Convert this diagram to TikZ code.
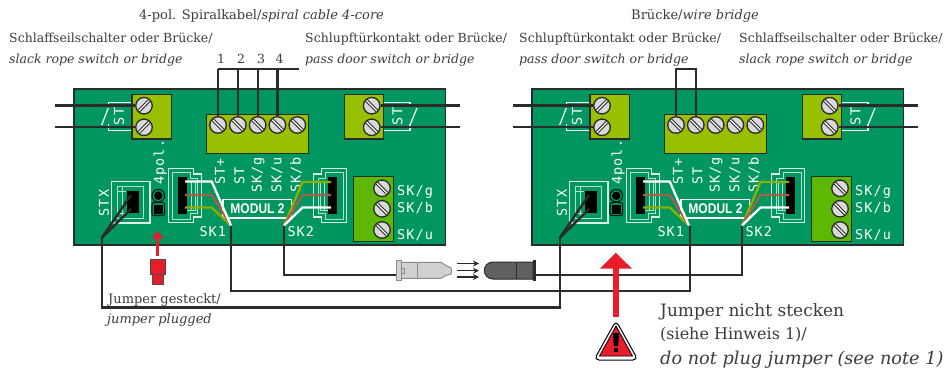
\documentclass[tikz,border=0pt]{standalone}
\usepackage{fontspec}
\setmainfont{DejaVu Serif}
\newfontfamily\silkfont[LetterSpace=8]{DejaVu Sans Mono}
\newfontfamily\modfont{Liberation Sans}
\usetikzlibrary{arrows.meta}
\definecolor{pcb}{HTML}{00965F}
\definecolor{term}{HTML}{96C000}
\definecolor{termb}{HTML}{5CB800}
\definecolor{wire}{HTML}{2B2B2B}
\definecolor{txt}{HTML}{3C3C3C}
\definecolor{jred}{HTML}{E81C2B}
\definecolor{wbrown}{HTML}{A5604A}
\definecolor{wgreen}{HTML}{8DB000}
\tikzset{
  x=1pt,y=-1pt,
  board/.style={draw=wire,fill=pcb,line width=1.2pt},
  termbox/.style={draw=wire,fill=term,line width=1.2pt},
  termboxb/.style={draw=wire,fill=termb,line width=1.2pt},
  screwbase/.style={circle,draw=wire,fill=black!15,line width=1.3pt,minimum size=16.5pt,inner sep=0pt},
  screwA/.style={screwbase,path picture={
    \draw[wire,line width=3.4pt] (path picture bounding box.north east)--(path picture bounding box.south west);
    \draw[white,line width=1.2pt] (path picture bounding box.north east)--(path picture bounding box.south west);}},
  screwB/.style={screwbase,path picture={
    \draw[wire,line width=3.4pt] (path picture bounding box.north west)--(path picture bounding box.south east);
    \draw[white,line width=1.2pt] (path picture bounding box.north west)--(path picture bounding box.south east);}},
  wireline/.style={draw=wire,line width=2.4pt,line join=miter},
  silk/.style={draw=white,line width=1.2pt},
  silkthin/.style={draw=white!70!pcb,line width=.8pt},
  silktext/.style={text=white,font=\silkfont\fontsize{13.5}{13.5}\selectfont,inner sep=0pt},
  label/.style={text=txt,font=\fontsize{12.5}{15}\selectfont,inner sep=0pt,anchor=base west},
  toplabel/.style={text=txt,font=\fontsize{13}{15}\selectfont,inner sep=0pt,anchor=base west},
  smalllabel/.style={text=txt,font=\fontsize{13}{15}\selectfont,inner sep=0pt,anchor=base west},
  biglabel/.style={text=txt,font=\fontsize{16}{18}\selectfont,inner sep=0pt,anchor=base west},
  pinwire/.style={line width=2.3pt,line join=round},
  lightarrow/.style={draw=wire,line width=1.2pt,-{Stealth[length=6pt,width=6pt]}},
}
\newcommand{\connshape}{%
  \draw[silk,draw=white!85!pcb] (168.3,168.3)--(193.3,168.3)--(193.3,174)--(201.7,174)--(201.7,217)--(193.3,217)--(193.3,222.7)--(168.3,222.7)--cycle;
  \draw[silkthin] (172,172)--(190,172)--(190,178)--(197,178)--(197,213)--(190,213)--(190,219)--(172,219)--cycle;
  \draw[silkthin] (187,181)--(195,181)--(195,210)--(187,210) (191,181)--(191,210);
  \fill[black] (178,176.7) rectangle (187.3,214.3);
}
\newcommand{\boardparts}[2]{%
\begin{scope}[shift={(#2,0)}]
  \draw[board] (74,89) rectangle (445.7,245);
  \draw[silk] (132,102.5)--(108.5,102.5)--(108.5,106);
  \draw[silk] (132,130.5)--(108.5,130.5)--(108.5,124);
  \draw[silk] (101.7,125)--(108.3,108);
  \draw[silk] (383,102.5)--(410,102.5)--(410,106);
  \draw[silk] (383,130.5)--(410,130.5)--(410,124);
  \draw[silk] (410,125)--(417,108);
  \node[silktext,rotate=90] (#1stl) at (119,116.5) {ST};
  \node[silktext,rotate=90] (#1str) at (397.5,116.5) {ST};
  \draw[termbox] (132,94.3) rectangle (171.3,139);
  \draw[termbox] (206.7,114.3) rectangle (308.7,153.3);
  \draw[termbox] (344.3,94.3) rectangle (383.3,139);
  \draw[termboxb] (353.7,176.7) rectangle (393.7,241.7);
  \node[screwA] (#1la) at (144,105.7) {};
  \node[screwA] (#1lb) at (144,127.3) {};
  \node[screwB] (#1c1) at (218,125) {};
  \node[screwB] (#1c2) at (237.8,125) {};
  \node[screwB] (#1c3) at (257.7,125) {};
  \node[screwB] (#1c4) at (277.4,125) {};
  \node[screwB] (#1c5) at (297.3,125) {};
  \node[screwB] (#1ra) at (371.7,105.7) {};
  \node[screwB] (#1rb) at (371.7,127.3) {};
  \node[screwB] (#1ga) at (382,188.3) {};
  \node[screwB] (#1gb) at (382,208.8) {};
  \node[screwB] (#1gc) at (382,230) {};
  \node[silktext,rotate=90,anchor=west] (#1t1) at (220,185) {ST+};
  \node[silktext,rotate=90,anchor=west] (#1t2) at (239.5,185) {ST};
  \node[silktext,rotate=90,anchor=west] (#1t3) at (258,193) {SK/g};
  \node[silktext,rotate=90,anchor=west] (#1t4) at (277,193) {SK/u};
  \node[silktext,rotate=90,anchor=west] (#1t5) at (296,193) {SK/b};
  \node[silktext,rotate=90,anchor=west] (#1t6) at (160,185) {4pol.};
  \node[silktext,rotate=90] (#1t7) at (104,203) {STX};
  \node[silktext,anchor=west] (#1t8) at (199.3,232) {SK1};
  \node[silktext,anchor=west] (#1t9) at (287.3,232) {SK2};
  \node[silktext,anchor=west] (#1g1) at (397,192) {SK/g};
  \node[silktext,anchor=west] (#1g2) at (397,208) {SK/b};
  \node[silktext,anchor=west] (#1g3) at (397,235) {SK/u};
  \draw[silk] (223,199.5) rectangle (291.7,218);
  \node[text=white,font=\modfont\bfseries\fontsize{14}{14}\selectfont,xscale=.86,inner sep=0pt] (#1mod) at (257.5,209) {MODUL 2};
  \draw[silk,draw=white!85!pcb] (111.7,181.7) rectangle (150,223);
  \draw[silkthin] (117,186) rectangle (143,218);
  \draw[silkthin] (117,191)--(126,191) (117,213)--(126,213) (122,186)--(122,218);
  \fill[black] (126.7,191) rectangle (139.3,213);
  \draw[black!85!pcb,line width=1.1pt] (158.3,195.7) circle[radius=6.3];
  \draw[black!85!pcb,line width=1.1pt,rounded corners=2pt] (152,202.6) rectangle (164.6,215.5);
  \fill[black] (158.3,195.7) circle[radius=4.2];
  \fill[black] (154,204.5) rectangle (162.6,213.5);
  \connshape
  \begin{scope}[shift={(515,0)},xscale=-1]\connshape\end{scope}
  \coordinate (#1k1) at (231,225.5);
  \coordinate (#1k2) at (284,225.5);
  \coordinate (#1x) at (101.7,238);
  \coordinate (#1xa) at (131,195);
  \coordinate (#1xb) at (131,209);
  \coordinate (#1w1) at (185,181.5);
  \coordinate (#1b1) at (211.7,181.5);
  \coordinate (#1w2) at (185,195);
  \coordinate (#1b2) at (211.7,195);
  \coordinate (#1w3) at (185,207.5);
  \coordinate (#1b3) at (211.7,207.5);
  \coordinate (#1w4) at (331,182);
  \coordinate (#1b4) at (302.5,182);
  \coordinate (#1w5) at (331,195);
  \coordinate (#1b5) at (302.5,195);
  \coordinate (#1w6) at (331,207.5);
  \coordinate (#1b6) at (302.5,207.5);
  \coordinate (#1lax) at (55,105.7);
  \coordinate (#1lbx) at (55,127.3);
  \coordinate (#1rax) at (460,105.7);
  \coordinate (#1rbx) at (460,127.3);
  \draw[wireline] (#1lax)--(#1la);
  \draw[wireline] (#1lbx)--(#1lb);
  \draw[wireline] (#1rax)--(#1ra);
  \draw[wireline] (#1rbx)--(#1rb);
  \draw[pinwire,wgreen] (#1w3)--(#1b3)--(#1k1);
  \draw[pinwire,wbrown] (#1w2)--(#1b2)--(#1k1);
  \draw[pinwire,white] (#1w1)--(#1b1)--(#1k1);
  \draw[pinwire,wgreen] (#1w4)--(#1b4)--(#1k2);
  \draw[pinwire,wbrown] (#1w5)--(#1b5)--(#1k2);
  \draw[pinwire,white] (#1w6)--(#1b6)--(#1k2);
  \draw[wireline] (#1xa)--(#1x);
  \draw[wireline] (#1xb)--(#1x);
\end{scope}}
\begin{document}
\begin{tikzpicture}
\useasboundingbox (0,0) rectangle (947,374);
\fill[white] (0,0) rectangle (947,374);

\coordinate (ledL) at (397,275);
\coordinate (ledR) at (535,275);
\coordinate (c5) at (299,69);
\coordinate (c0) at (218,69);
\coordinate (c2t) at (237.8,69);
\coordinate (c3t) at (257.7,69);
\coordinate (c4t) at (277.4,69);
\coordinate (br1) at (676,69);
\coordinate (br2) at (695.8,69);

\boardparts{L}{0}
\boardparts{R}{458}

\draw[wireline] (Lk1)--(231,290.7)--(690,290.7)--(690,225.5);
\draw[wireline] (Lk2)|-(ledL);
\draw[wireline] (ledR)-|(Rk2);
\draw[wireline] (Lx)--(101.7,307.5)--(559.7,307.5)--(Rx);

\draw[wireline] (c0)--(c5);
\draw[wireline] (c0)--(Lc1);
\draw[wireline] (c2t)--(Lc2);
\draw[wireline] (c3t)--(Lc3);
\draw[wireline] (c4t)--(Lc4);
\draw[wireline] (Rc1)--(br1)--(br2)--(Rc2);

\draw[draw=black!45,fill=black!18,line width=1pt] (401,262.3)--(441,262.3)--(446,265.5)--(451,268)--(451.7,271)--(451,274)--(446,275.5)--(441,278.3)--(401,278.3)--cycle;
\draw[draw=black!45,fill=black!18,line width=1pt] (396.5,260) rectangle (401,280.7);
\draw[black!45,line width=1pt] (417.7,262.3)--(417.7,278.3) (401,268)--(404,268)--(404,273)--(401,273);
\coordinate (a1s) at (456.7,263.5);\coordinate (a1e) at (479,263.5);
\coordinate (a2s) at (456.7,270.7);\coordinate (a2e) at (479,270.7);
\coordinate (a3s) at (456.7,277);\coordinate (a3e) at (479,277);
\draw[lightarrow] (a1s)--(a1e);
\draw[lightarrow] (a2s)--(a2e);
\draw[lightarrow] (a3s)--(a3e);
\draw[draw=wire,fill=black!62,line width=1pt] (533,262)--(493,262) arc[start angle=-90,end angle=-270,x radius=8.7pt,y radius=-8.5pt]--(533,279)--cycle;
\draw[wire,line width=1pt] (516.7,262)--(516.7,279);
\fill[wire] (532.5,260) rectangle (535.5,281);

\coordinate (ja) at (157.5,256);
\coordinate (jb) at (157.5,238);
\draw[jred,line width=2.2pt] (ja)--(jb);
\fill[jred] (157.5,231)--(163.5,238.5)--(151.5,238.5)--cycle;
\draw[draw=black!70,fill=jred,line width=.8pt] (152,274.3) rectangle (163.3,284);
\draw[draw=black!70,fill=jred,line width=.8pt] (150.3,259.3) rectangle (165.3,274.3);

\draw[jred,line width=6.6pt] (616,317.3)--(616,266);
\fill[jred] (615.8,252.7)--(631.8,268.5)--(600,268.5)--cycle;

\draw[draw=black,fill=white,line width=1pt,rounded corners=5pt] (616,320.5)--(638,360)--(594,360)--cycle;
\draw[draw=black,fill=jred,line width=.8pt] (616,326)--(632.5,356)--(599.5,356)--cycle;
\fill[black] (613,333)--(619,333)--(618.3,346)--(613.7,346)--cycle;
\fill[black] (613.7,348) rectangle (618.3,352);

\node[toplabel] (t1) at (139,20) {4-pol. Spiralkabel/\textit{spiral cable 4-core}};
\node[label] (t2) at (9,43) {Schlaffseilschalter oder Brücke/};
\node[label] (t3) at (9,64) {\textit{slack rope switch or bridge}};
\node[label] (t4) at (305,43) {Schlupftürkontakt oder Brücke/};
\node[label] (t5) at (305,64) {\textit{pass door switch or bridge}};
\node[toplabel] (t6) at (631,20) {Brücke/\textit{wire bridge}};
\node[label] (t7) at (519,43) {Schlupftürkontakt oder Brücke/};
\node[label] (t8) at (519,64) {\textit{pass door switch or bridge}};
\node[label] (t9) at (739,43) {Schlaffseilschalter oder Brücke/};
\node[label] (t10) at (739,64) {\textit{slack rope switch or bridge}};
\node[label,anchor=base] (n1) at (221,64) {1};
\node[label,anchor=base] (n2) at (241,64) {2};
\node[label,anchor=base] (n3) at (261,64) {3};
\node[label,anchor=base] (n4) at (279.5,64) {4};
\node[smalllabel] (t11) at (108,303) {Jumper gesteckt/};
\node[smalllabel] (t12) at (107,323) {\textit{jumper plugged}};
\node[biglabel,font=\fontsize{17}{18}\selectfont] (t13) at (660,316) {Jumper nicht stecken};
\node[biglabel] (t14) at (660,339) {(siehe Hinweis 1)/};
\node[biglabel,font=\fontsize{17.7}{18}\selectfont] (t15) at (660,364) {\textit{do not plug jumper (see note 1)}};
\end{tikzpicture}
\end{document}
